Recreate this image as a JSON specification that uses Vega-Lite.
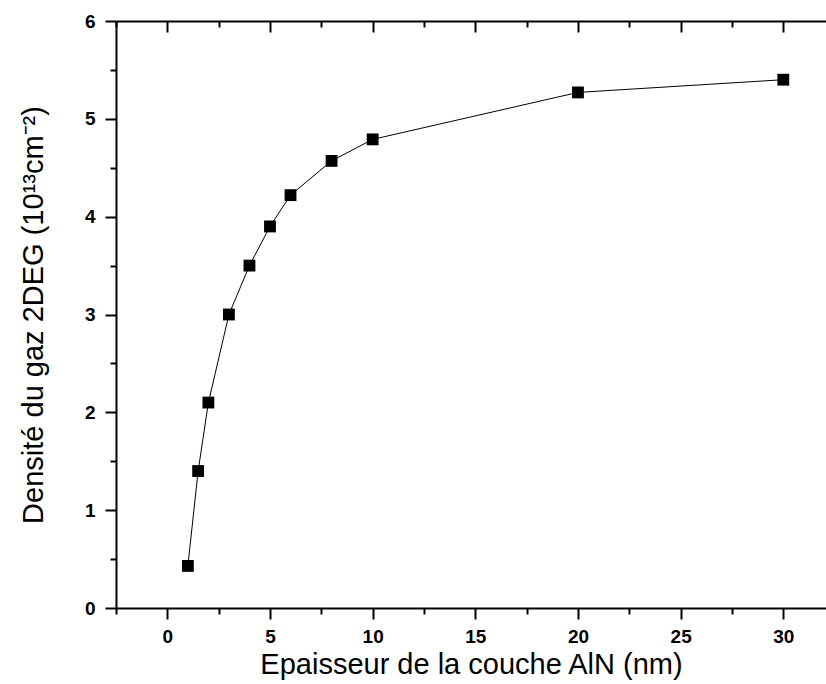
{
  "$schema": "https://vega.github.io/schema/vega-lite/v6.json",
  "width": 710,
  "height": 587,
  "autosize": "none",
  "padding": {"left": 116, "top": 21, "right": 0, "bottom": 76},
  "background": "white",
  "config": {
    "view": {"stroke": null},
    "axis": {
      "grid": false,
      "domainColor": "black",
      "domainWidth": 2,
      "tickColor": "black",
      "tickWidth": 2,
      "labelFont": "Liberation Sans",
      "labelFontWeight": "bold",
      "labelFontSize": 19,
      "labelColor": "black",
      "titleFont": "Liberation Sans",
      "titleFontWeight": "normal",
      "titleFontSize": 29,
      "titleColor": "black"
    }
  },
  "data": {
    "values": [
      {"t": 1, "n": 0.43},
      {"t": 1.5, "n": 1.40},
      {"t": 2, "n": 2.10},
      {"t": 3, "n": 3.00},
      {"t": 4, "n": 3.50},
      {"t": 5, "n": 3.90},
      {"t": 6, "n": 4.22},
      {"t": 8, "n": 4.57},
      {"t": 10, "n": 4.79},
      {"t": 20, "n": 5.27},
      {"t": 30, "n": 5.40}
    ]
  },
  "layer": [
    {
      "mark": {"type": "line", "color": "black", "strokeWidth": 1},
      "encoding": {
        "x": {
          "field": "t",
          "type": "quantitative",
          "scale": {"domain": [-2.5, 32.08], "nice": false, "zero": false},
          "axis": {
            "orient": "bottom",
            "values": [-2.5, 0, 2.5, 5, 7.5, 10, 12.5, 15, 17.5, 20, 22.5, 25, 27.5, 30],
            "labelExpr": "datum.value % 5 === 0 ? format(datum.value, 'd') : ''",
            "tickSize": {"condition": {"test": "datum.value % 5 === 0", "value": 11}, "value": 6},
            "labelPadding": 8,
            "title": "Epaisseur de la couche AlN (nm)",
            "titlePadding": 4
          }
        },
        "y": {
          "field": "n",
          "type": "quantitative",
          "scale": {"domain": [0, 6], "nice": false, "zero": false},
          "axis": {
            "orient": "left",
            "values": [0, 0.5, 1, 1.5, 2, 2.5, 3, 3.5, 4, 4.5, 5, 5.5, 6],
            "labelExpr": "datum.value % 1 === 0 ? format(datum.value, 'd') : ''",
            "tickSize": {"condition": {"test": "datum.value % 1 === 0", "value": 11}, "value": 6},
            "labelPadding": 10,
            "title": "Densité du gaz 2DEG (10¹³cm⁻²)",
            "titlePadding": 36
          }
        }
      }
    },
    {
      "mark": {"type": "point", "shape": "square", "filled": true, "color": "black", "opacity": 1, "size": 140},
      "encoding": {
        "x": {
          "field": "t",
          "type": "quantitative",
          "axis": {
            "orient": "top",
            "values": [-2.5, 0, 2.5, 5, 7.5, 10, 12.5, 15, 17.5, 20, 22.5, 25, 27.5, 30],
            "labels": false,
            "tickSize": {"condition": {"test": "datum.value % 5 === 0", "value": -11}, "value": -6},
            "title": null
          }
        },
        "y": {"field": "n", "type": "quantitative"}
      }
    }
  ],
  "resolve": {"axis": {"x": "independent"}}
}
